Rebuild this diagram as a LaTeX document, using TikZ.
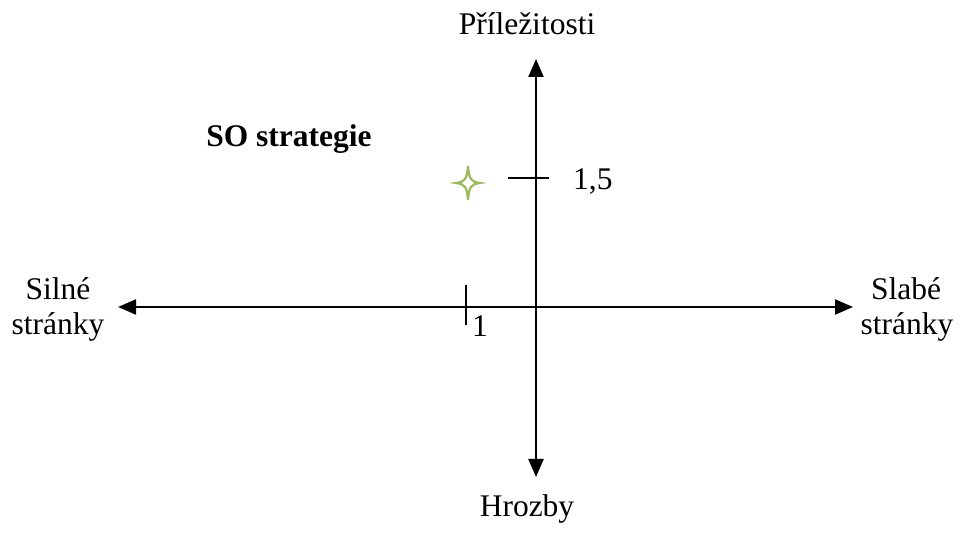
\documentclass[tikz,border=0pt]{standalone}
\usepackage{fontspec}
\setmainfont{Liberation Serif}
\usetikzlibrary{arrows.meta}
\definecolor{stargreen}{HTML}{9BBB59}
\tikzset{
  biaxis/.style={line width=2.2pt, {Triangle[length=18pt,width=15pt]}-{Triangle[length=18pt,width=15pt]}},
  tick/.style={line width=2pt},
  lbl/.style={font=\fontsize{31.5}{35}\selectfont, inner sep=0pt, align=center},
  boldlbl/.style={font=\fontsize{31.5}{35}\selectfont\bfseries, inner sep=0pt},
  starshape/.style={draw=stargreen, line width=2.2pt, fill=white, line join=miter}
}
\begin{document}
\begin{tikzpicture}[x=1pt,y=-1pt]
\useasboundingbox (0,0) rectangle (962,534);
% axes
\coordinate (top) at (536,59);
\coordinate (bottom) at (536,477);
\coordinate (left) at (118,307);
\coordinate (right) at (853,307);
\draw[biaxis] (bottom) -- (top);
\draw[biaxis] (left) -- (right);
% ticks
\coordinate (t15a) at (508,178);
\coordinate (t15b) at (549,178);
\draw[tick] (t15a) -- (t15b);
\coordinate (t1a) at (466,285);
\coordinate (t1b) at (466,325);
\draw[tick] (t1a) -- (t1b);
% labels
\node[lbl, anchor=base] (pril) at (527,35) {Příležitosti};
\node[lbl, anchor=base] (hroz) at (527,517) {Hrozby};
\node[lbl, anchor=base] (siln1) at (58,300) {Silné};
\node[lbl, anchor=base] (siln2) at (58,335) {stránky};
\node[lbl, anchor=base] (slab1) at (906,300) {Slabé};
\node[lbl, anchor=base] (slab2) at (907,335) {stránky};
\node[lbl, anchor=base west] (v15) at (573,190) {1,5};
\node[lbl, anchor=base west] (v1) at (472,337) {1};
\node[boldlbl, anchor=base] (so) at (289,147) {SO strategie};
% star
\draw[starshape] (468,166) .. controls (469,179) and (471,182) .. (480,183)
  .. controls (471,184) and (469,187) .. (468,200)
  .. controls (467,187) and (465,184) .. (456,183)
  .. controls (465,182) and (467,179) .. cycle;
\end{tikzpicture}
\end{document}
